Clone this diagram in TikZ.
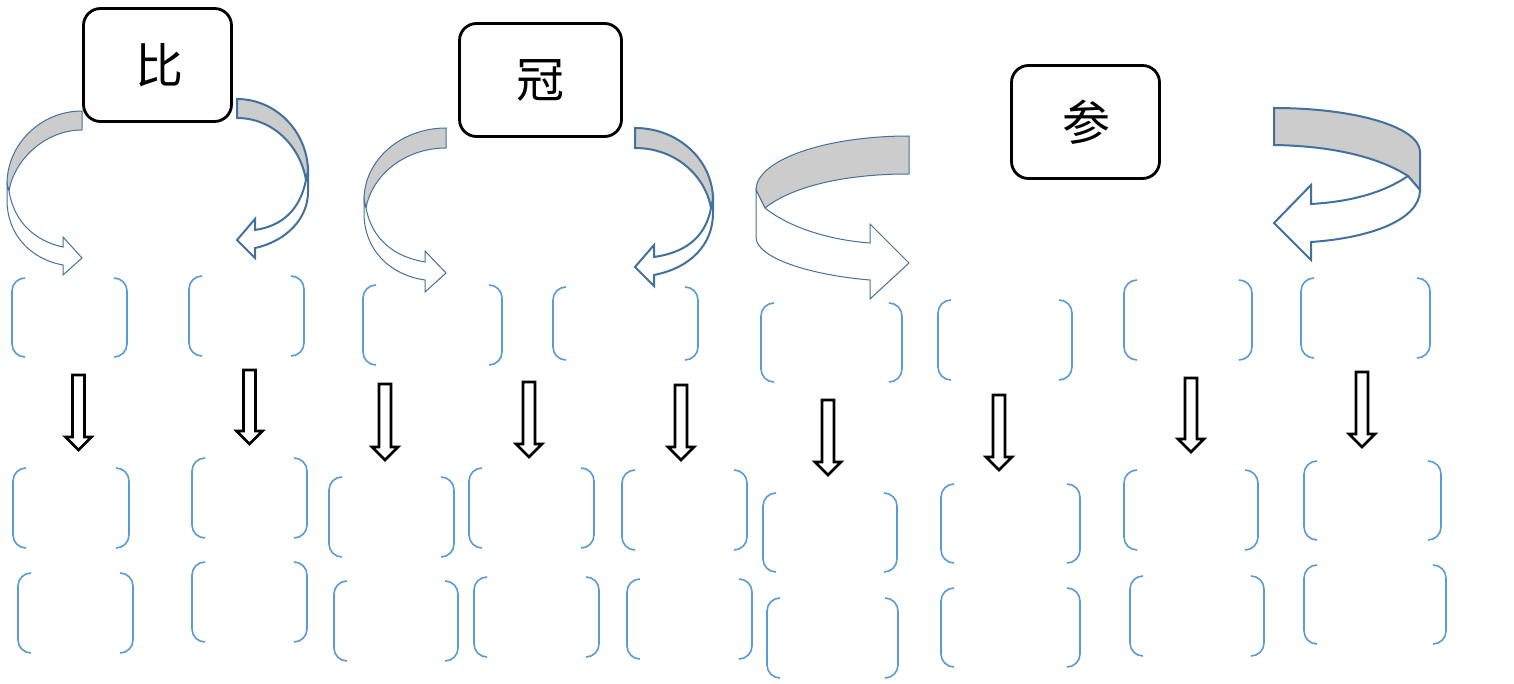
\documentclass[tikz,border=0pt]{standalone}
\usepackage{fontspec}
\newfontfamily\cjk{Noto Sans CJK SC}
\definecolor{arrowblue}{HTML}{41719C}
\definecolor{bracketblue}{HTML}{5B9BD5}
\definecolor{bandgray}{HTML}{CCCCCC}
\newcommand\bpair[5]{%
  \coordinate (#1) at ({(#2+#4)/2},{(#3+#5)/2});
  \draw[bracketline] (#2+13,#3) -- (#2,#3) -- (#2,#5) -- (#2+13,#5);
  \draw[bracketline] (#4-13,#3) -- (#4,#3) -- (#4,#5) -- (#4-13,#5);
}
\newcommand\downarr[3]{%
  \draw[blockdown] (#1-6,#2) -- (#1+6,#2) -- (#1+6,#3-13) -- (#1+13,#3-13)
    -- (#1,#3) -- (#1-13,#3-13) -- (#1-6,#3-13) -- cycle;
}
\begin{document}
\begin{tikzpicture}[x=0.5pt,y=-0.5pt,
  charbox/.style={draw=black, line width=1.4pt, rounded corners=8.5pt, fill=white,
    minimum width=74pt, minimum height=56.5pt, inner sep=0pt,
    font=\cjk\fontsize{24}{24}\selectfont},
  bracketline/.style={draw=bracketblue, line width=0.8pt, rounded corners=6.5pt},
  blockdown/.style={draw=black, line width=1.3pt, fill=white, line join=miter},
  thinband/.style={draw=arrowblue, line width=0.5pt, line join=miter},
  thickband/.style={draw=arrowblue, line width=1pt, line join=miter}]
\useasboundingbox (0,0) rectangle (1514,684);

% ---- character boxes
\node[charbox] (bi) at (157.5,65) {\raisebox{-5.5pt}{\hspace{2pt}比}};
\node[charbox, minimum width=81pt] (guan) at (540.5,80) {\raisebox{-4.5pt}{冠}};
\node[charbox] (can) at (1085.5,122) {\raisebox{-4.5pt}{\hspace{1pt}参}};

% ---- curved arrow A (bi, left)
\path[thinband, fill=bandgray] (82,111) .. controls (41,111) and (7,144) .. (7,184)
  -- (9,191) .. controls (14,160) and (45,130) .. (82,130) -- cycle;
\path[thinband, fill=white] (7,184) -- (9,191) .. controls (14,222) and (35,241) .. (63,247)
  -- (63,237) -- (82,258) -- (63,275) -- (63,265)
  .. controls (30,259) and (7,234) .. (7,200) -- cycle;

% ---- curved arrow B (bi, right)
\path[thickband, fill=bandgray] (237,99) .. controls (276,99) and (308,132) .. (308,172)
  -- (306,180) .. controls (300,145) and (272,118) .. (237,118) -- cycle;
\path[thickband, fill=white] (308,172) -- (306,180) .. controls (300,210) and (282,226) .. (255,230)
  -- (255,219) -- (237,240) -- (255,258) -- (255,248)
  .. controls (287,241) and (308,218) .. (308,192) -- cycle;

% ---- curved arrow C (guan, left)
\path[thinband, fill=bandgray] (446,128) .. controls (401,128) and (364,160) .. (364,200)
  -- (366,208) .. controls (372,175) and (405,148) .. (446,148) -- cycle;
\path[thinband, fill=white] (364,200) -- (366,208) .. controls (372,240) and (395,257) .. (425,262)
  -- (425,251) -- (446,273) -- (425,292) -- (425,280)
  .. controls (390,275) and (364,250) .. (364,213) -- cycle;

% ---- curved arrow D (guan, right)
\path[thickband, fill=bandgray] (635,128) .. controls (678,128) and (713,160) .. (713,200)
  -- (711,208) .. controls (705,175) and (675,148) .. (635,148) -- cycle;
\path[thickband, fill=white] (713,200) -- (711,208) .. controls (705,240) and (682,253) .. (654,257)
  -- (654,245) -- (635,267) -- (654,286) -- (654,275)
  .. controls (690,268) and (713,245) .. (713,213) -- cycle;

% ---- curved arrow E (can, left)
\path[thinband, fill=bandgray] (909,136) .. controls (825,136) and (756,160) .. (756,190)
  -- (765,208) .. controls (790,188) and (840,174) .. (909,174) -- cycle;
\path[thinband, fill=white] (756,190) -- (765,208) .. controls (790,228) and (830,240) .. (870,243)
  -- (870,224) -- (909,263) -- (870,299) -- (870,280)
  .. controls (810,275) and (756,258) .. (756,237) -- cycle;

% ---- curved arrow F (can, right)
\path[thickband, fill=bandgray] (1274,108) .. controls (1355,108) and (1420,127) .. (1420,152)
  -- (1420,190) -- (1408,176) .. controls (1380,158) and (1335,146) .. (1274,145) -- cycle;
\path[thickband, fill=white] (1408,176) .. controls (1380,195) and (1345,202) .. (1311,204)
  -- (1311,185) -- (1274,223) -- (1311,260) -- (1311,242)
  .. controls (1370,238) and (1420,220) .. (1420,190) -- cycle;

% ---- bracket pairs, top row
\bpair{t1}{12}{278}{127}{357}
\bpair{t2}{189}{276}{304}{356}
\bpair{t3}{363}{285}{502}{365}
\bpair{t4}{553}{287}{698}{360}
\bpair{t5}{761}{303}{902}{382}
\bpair{t6}{938}{300}{1072}{380}
\bpair{t7}{1124}{280}{1252}{360}
\bpair{t8}{1301}{278}{1430}{358}
% middle row
\bpair{m1}{13}{468}{129}{548}
\bpair{m2}{192}{458}{307}{538}
\bpair{m3}{329}{477}{454}{557}
\bpair{m4}{469}{468}{594}{548}
\bpair{m5}{622}{470}{747}{550}
\bpair{m6}{763}{493}{897}{572}
\bpair{m7}{941}{484}{1080}{563}
\bpair{m8}{1124}{470}{1258}{550}
\bpair{m9}{1304}{461}{1441}{540}
% bottom row
\bpair{c1}{18}{573}{133}{653}
\bpair{c2}{192}{562}{307}{642}
\bpair{c3}{334}{581}{458}{661}
\bpair{c4}{474}{577}{599}{657}
\bpair{c5}{627}{579}{752}{659}
\bpair{c6}{767}{598}{898}{678}
\bpair{c7}{941}{588}{1080}{667}
\bpair{c8}{1130}{576}{1264}{656}
\bpair{c9}{1304}{565}{1446}{644}

% ---- block down arrows
\downarr{78.5}{375}{450}
\downarr{249.5}{370}{444}
\downarr{385}{384}{460}
\downarr{529}{382}{457}
\downarr{681}{385}{460}
\downarr{828}{400}{475}
\downarr{999}{395}{470}
\downarr{1191}{378}{452}
\downarr{1362}{372}{447}
\end{tikzpicture}
\end{document}
